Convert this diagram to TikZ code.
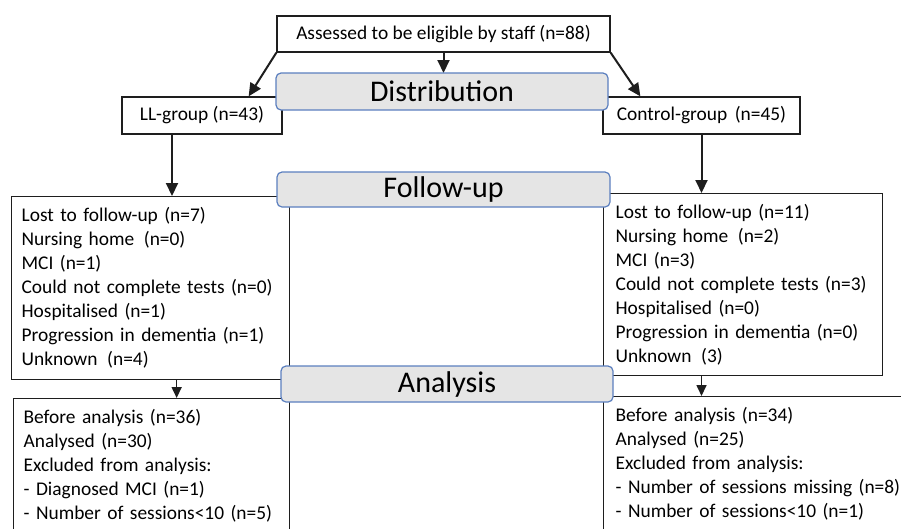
\documentclass[tikz,border=0pt]{standalone}
\usepackage{fontspec}
\setmainfont{Carlito}
\usetikzlibrary{arrows.meta}
\definecolor{headblue}{RGB}{91,127,191}
\definecolor{linegray}{RGB}{30,30,30}
\newcommand{\boxfont}{\fontsize{19.4}{24}\selectfont}
\newcommand{\headfont}{\fontsize{30}{36}\selectfont}

\begin{document}
\begin{tikzpicture}[x=1pt, y=-1pt,
    box/.style={draw=linegray, line width=1.3pt, fill=white, font=\boxfont, inner sep=0pt},
    listbox/.style={box, align=left, inner xsep=10pt, anchor=north west},
    head/.style={draw=headblue, line width=1.2pt, fill=gray!20, rounded corners=5pt, font=\headfont, inner sep=0pt, minimum width=332pt},
    arr/.style={draw=linegray, line width=2pt, -{Triangle[length=13pt,width=12pt]}},
    sarr/.style={draw=linegray, line width=1.6pt, -{Triangle[length=11pt,width=10pt]}}]

    \useasboundingbox (0,0) rectangle (901,528);

    \node [box, minimum width=333pt, minimum height=36pt] (top) at (443.5, 34) {Assessed to be eligible by staff (n=88)};
    \node [box, minimum width=160pt, minimum height=37pt] (ll) at (202, 115.5) {LL-group (n=43)};
    \node [box, minimum width=197pt, minimum height=37pt] (ctl) at (701.5, 115.5) {Control-group\, (n=45)};

    \node [listbox, text width=258pt, minimum height=183pt] (lfu) at (11, 196) {Lost to follow-up (n=7)\\ Nursing home\, (n=0)\\ MCI (n=1)\\ Could not complete tests (n=0)\\ Hospitalised (n=1)\\ Progression in dementia (n=1)\\ Unknown\, (n=4)};
    \node [listbox, inner xsep=12pt, text width=255pt, minimum height=182pt] (rfu) at (603, 193) {Lost to follow-up (n=11)\\ Nursing home\, (n=2)\\ MCI (n=3)\\ Could not complete tests (n=3)\\ Hospitalised (n=0)\\ Progression in dementia (n=0)\\ Unknown\, (3)};

    \node [listbox, text width=256pt, minimum height=134pt] (lan) at (13, 398) {Before analysis (n=36)\\ Analysed (n=30)\\ Excluded from analysis:\\ - Diagnosed MCI (n=1)\\ - Number of sessions<10 (n=5)};
    \node [listbox, inner xsep=12pt, text width=296pt, minimum height=134pt] (ran) at (603, 396) {Before analysis (n=34)\\ Analysed (n=25)\\ Excluded from analysis:\\ - Number of sessions missing (n=8)\\ - Number of sessions<10 (n=1)};

    \draw [arr] (top.south west) to ([xshift=-34pt]ll.north east);
    \draw [arr] (top.south) to (top.south |- 0,73);
    \draw [arr] (top.south east) to ([xshift=38pt]ctl.north west);
    \draw [arr] ([xshift=-30pt]ll.south) to ([xshift=-30pt]ll.south |- lfu.north);
    \draw [arr] (ctl.south) to (ctl.south |- rfu.north);
    \draw [sarr] ([xshift=26pt]lfu.south) to ([xshift=26pt]lfu.south |- lan.north);
    \draw [sarr] (ctl.south |- rfu.south) to (ctl.south |- ran.north);

    \node [head, minimum height=37pt] (dist) at (442, 91.5) {Distribution};
    \node [head, minimum height=35pt, minimum width=333pt] (fu) at (443.5, 189.5) {Follow-up};
    \node [head, minimum height=36pt] (an) at (447, 384) {Analysis};

\end{tikzpicture}
\end{document}
